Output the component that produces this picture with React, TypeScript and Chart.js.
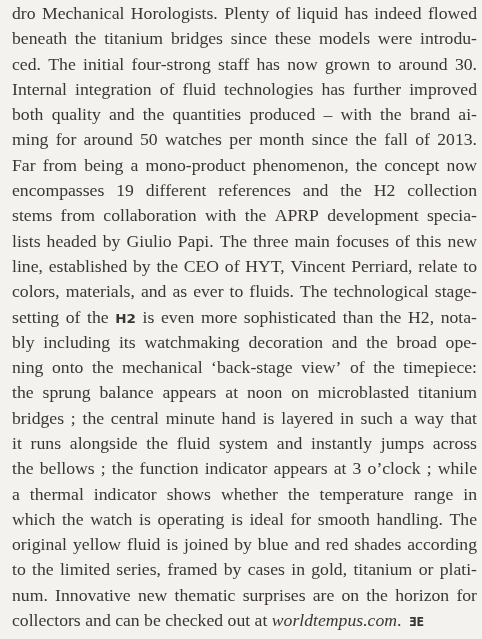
import React, { useEffect, useRef } from "react";
import { Chart, registerables } from "chart.js";

Chart.register(...registerables);

// Text lines of the page (one entry per printed line).
// ~x~ marks the brand mark in bold, _x_ marks italic text, ^x^ marks the end logo.
const LINES: string[] = [
  "dro Mechanical Horologists. Plenty of liquid has indeed flowed",
  "beneath the titanium bridges since these models were introdu-",
  "ced. The initial four-strong staff has now grown to around 30.",
  "Internal integration of fluid technologies has further improved",
  "both quality and the quantities produced – with the brand ai-",
  "ming for around 50 watches per month since the fall of 2013.",
  "Far from being a mono-product phenomenon, the concept now",
  "encompasses 19 different references and the H2 collection",
  "stems from collaboration with the APRP development specia-",
  "lists headed by Giulio Papi. The three main focuses of this new",
  "line, established by the CEO of HYT, Vincent Perriard, relate to",
  "colors, materials, and as ever to fluids. The technological stage-",
  "setting of the ~H2~ is even more sophisticated than the H2, nota-",
  "bly including its watchmaking decoration and the broad ope-",
  "ning onto the mechanical ‘back-stage view’ of the timepiece:",
  "the sprung balance appears at noon on microblasted titanium",
  "bridges ; the central minute hand is layered in such a way that",
  "it runs alongside the fluid system and instantly jumps across",
  "the bellows ; the function indicator appears at 3 o’clock ; while",
  "a thermal indicator shows whether the temperature range in",
  "which the watch is operating is ideal for smooth handling. The",
  "original yellow fluid is joined by blue and red shades according",
  "to the limited series, framed by cases in gold, titanium or plati-",
  "num. Innovative new thematic surprises are on the horizon for",
  "collectors and can be checked out at _worldtempus.com_. ^ƎE^",
];

const LINE_INDEX: number[] = LINES.map((_, i) => i);

const BG = "#f3f2ef";
const INK = "#3b3632";
const FONT_FAMILY = "'Liberation Serif', 'Times New Roman', serif";
const FONT_SIZE = 17;

type Seg = { text: string; style: "normal" | "italic" | "bold" | "logo" };

function parseWord(word: string): Seg[] {
  const parts = word.split(/(_[^_]+_|~[^~]+~|\^[^^]+\^)/).filter((p) => p.length > 0);
  return parts.map((p) => {
    if (p.startsWith("_") && p.endsWith("_") && p.length > 1) return { text: p.slice(1, -1), style: "italic" };
    if (p.startsWith("~") && p.endsWith("~") && p.length > 1) return { text: p.slice(1, -1), style: "bold" };
    if (p.startsWith("^") && p.endsWith("^") && p.length > 1) return { text: p.slice(1, -1), style: "logo" };
    return { text: p, style: "normal" };
  });
}

function fontFor(style: Seg["style"], size: number): string {
  if (style === "italic") return `italic ${size}px ${FONT_FAMILY}`;
  if (style === "bold") return `bold ${size - 4}px 'DejaVu Sans', sans-serif`;
  if (style === "logo") return `bold ${size - 4}px 'DejaVu Sans', sans-serif`;
  return `${size}px ${FONT_FAMILY}`;
}

function segWidth(ctx: CanvasRenderingContext2D, s: Seg, size: number): number {
  ctx.font = fontFor(s.style, size);
  return ctx.measureText(s.text).width;
}

const textPlugin = {
  id: "pageText",
  beforeDraw(chart: any) {
    const { ctx, width, height } = chart;
    ctx.save();
    ctx.fillStyle = BG;
    ctx.fillRect(0, 0, width, height);
    ctx.restore();
  },
  afterDraw(chart: any) {
    const ctx: CanvasRenderingContext2D = chart.ctx;
    const xScale = chart.scales.x;
    const left = xScale.getPixelForValue(0);
    const right = xScale.getPixelForValue(1);
    const avail = right - left;
    const meta = chart.getDatasetMeta(0);
    ctx.save();
    ctx.font = fontFor("normal", FONT_SIZE);
    const space = ctx.measureText(" ").width;
    const parsed = LINES.map((line) => line.split(" ").map(parseWord));
    const widths = parsed.map((words) =>
      words.map((segs) => segs.reduce((a, s) => a + segWidth(ctx, s, FONT_SIZE), 0))
    );
    // horizontal stretch so the tightest justified line has ~normal word spaces
    let stretch = Infinity;
    parsed.forEach((words, i) => {
      if (i === LINES.length - 1) return;
      const total = widths[i].reduce((a, b) => a + b, 0);
      const s = (avail - (words.length - 1) * space * 1.05) / total;
      if (s < stretch) stretch = s;
    });
    if (!isFinite(stretch) || stretch <= 0) stretch = 1;
    stretch *= 0.97;
    ctx.fillStyle = INK;
    ctx.textBaseline = "alphabetic";
    ctx.textAlign = "left";
    parsed.forEach((words, i) => {
      const el = meta.data[i];
      if (!el) return;
      const y = el.y;
      const ws = widths[i].map((w) => w * stretch);
      const total = ws.reduce((a, b) => a + b, 0);
      const isLast = i === LINES.length - 1;
      const gap = !isLast && words.length > 1 ? (avail - total) / (words.length - 1) : space * stretch;
      let x = left;
      words.forEach((segs, wi) => {
        segs.forEach((s) => {
          ctx.font = fontFor(s.style, FONT_SIZE);
          const dy = s.style === "logo" ? -0.5 : 0;
          const extra = s.style === "logo" ? 3 : 0;
          const sx = s.style === "logo" ? 0.85 : stretch;
          ctx.save();
          ctx.translate(x + extra, y + dy);
          ctx.scale(sx, 1);
          ctx.fillText(s.text, 0, 0);
          ctx.restore();
          x += ctx.measureText(s.text).width * stretch;
        });
        if (wi < words.length - 1) x += gap;
      });
    });
    ctx.restore();
  },
};

export default function App() {
  const ref = useRef<HTMLCanvasElement | null>(null);
  useEffect(() => {
    if (!ref.current) return;
    const chart = new Chart(ref.current, {
      type: "scatter",
      data: {
        datasets: [
          {
            label: "lines",
            data: LINE_INDEX.map((i) => ({ x: 0, y: i })),
            pointRadius: 0,
            pointHoverRadius: 0,
            showLine: false,
          },
        ],
      },
      options: {
        responsive: false,
        animation: false,
        events: [],
        layout: { padding: { top: 19, bottom: 13, left: 12, right: 5 } },
        plugins: { legend: { display: false }, tooltip: { enabled: false }, title: { display: false } },
        scales: {
          x: { type: "linear", min: 0, max: 1, display: false },
          y: { type: "linear", min: 0, max: LINES.length - 1, reverse: true, display: false },
        },
      },
      plugins: [textPlugin],
    });
    return () => chart.destroy();
  }, []);
  return (
    <div style={{ position: "fixed", left: 0, top: 0, width: 482, height: 639, background: BG }}>
      <canvas ref={ref} width={482} height={639} style={{ display: "block" }} />
    </div>
  );
}
